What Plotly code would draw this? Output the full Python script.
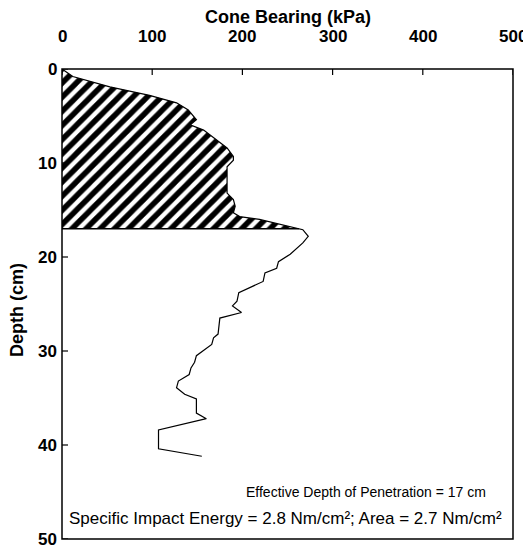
import numpy as np
import plotly.graph_objects as go

# Data
depth_cm = [0, 0.8, 1.9, 2.8, 3.6, 4.35, 5.4, 5.95, 6.5, 8.4, 9.3, 9.7, 10.4, 13.2, 13.9, 14.6,
            15.3, 15.7, 16.0, 16.7, 17.1, 17.8, 18.5, 19.7, 20.5, 21.2, 21.7, 22.6, 23.8, 24.7,
            25.2, 25.9, 26.5, 28.2, 28.6, 29.3, 30.5, 31.2, 31.8, 32.5, 33.2, 33.9, 34.6, 35.1,
            36.6, 37.2, 38.4, 40.4, 41.2]
bearing_kpa = [0, 12, 53, 97, 127, 140, 149, 142, 157, 183, 190, 190, 183, 183, 190, 192,
               190, 197, 219, 249, 267, 273, 267, 253, 240, 238, 225, 223, 196, 194,
               189, 199, 175, 173, 168, 166, 149, 147, 143, 141, 129, 127, 136, 149,
               149, 160, 107, 107, 155]
effective_depth = 17
x_ticks = [0, 100, 200, 300, 400, 500]
y_ticks = [0, 10, 20, 30, 40, 50]

d = np.array(depth_cm)
b = np.array(bearing_kpa)
mask = d <= effective_depth
b_eff = float(np.interp(effective_depth, d, b))
fill_x = list(b[mask]) + [b_eff, 0, 0]
fill_y = list(d[mask]) + [effective_depth, effective_depth, 0]

FONT = "Liberation Sans"
OFF = 8  # page body margin
W, H = 531 - OFF, 549 - OFF
ML, MR, MT, MB = 62 - OFF, 18, 69 - OFF, 10
PW, PH = W - ML - MR, H - MT - MB


def px_x(page_x):
    return (page_x - OFF - ML) / PW


def px_y(page_y):
    return 1 - (page_y - OFF - MT) / PH


fig = go.Figure()
fig.add_trace(go.Scatter(
    x=fill_x, y=fill_y, mode="lines", fill="toself",
    line=dict(width=0, color="rgba(0,0,0,0)"),
    fillcolor="white",
    fillpattern=dict(shape="/", fgcolor="#000000", fgopacity=1, bgcolor="#ffffff",
                     fillmode="overlay", size=10, solidity=0.55),
    opacity=1, hoverinfo="skip", showlegend=False))
fig.add_trace(go.Scatter(
    x=[0, b_eff], y=[effective_depth, effective_depth], mode="lines",
    line=dict(color="black", width=1.5), hoverinfo="skip", showlegend=False))
fig.add_trace(go.Scatter(
    x=bearing_kpa, y=depth_cm, mode="lines",
    line=dict(color="black", width=1.2), showlegend=False))

fig.update_layout(
    width=W, height=H,
    margin=dict(l=ML, r=MR, t=MT, b=MB, autoexpand=False),
    paper_bgcolor="white", plot_bgcolor="white",
    font=dict(family=FONT, color="black"),
    showlegend=False,
)
common = dict(ticks="", showline=False, showgrid=False, zeroline=False,
              showticklabels=False, automargin=False)
fig.update_xaxes(side="top", range=[0, 500], **common)
fig.update_yaxes(range=[50, 0], **common)

# frame
fig.add_shape(type="rect", xref="paper", yref="paper", x0=0, y0=0, x1=1, y1=1,
              line=dict(color="black", width=1.5), fillcolor="rgba(0,0,0,0)", layer="above")
# ticks (inside) and tick labels
tick_px = 6
for v in x_ticks:
    fig.add_shape(type="line", xref="x", yref="paper", x0=v, x1=v,
                  y0=1, y1=1 - tick_px / PH, line=dict(color="black", width=1.2))
    fig.add_annotation(text=f"<b>{v}</b>", xref="x", yref="paper", x=v,
                       y=px_y(37), xanchor="center", yanchor="middle",
                       showarrow=False, font=dict(family=FONT, size=17, color="black"))
for v in y_ticks:
    fig.add_shape(type="line", xref="paper", yref="y", x0=0, x1=tick_px / PW,
                  y0=v, y1=v, line=dict(color="black", width=1.2))
    fig.add_annotation(text=f"<b>{v}</b>", xref="paper", yref="y", x=px_x(59), y=v,
                       xanchor="right", yanchor="middle",
                       showarrow=False, font=dict(family=FONT, size=17, color="black"))

fig.add_annotation(text="<b>Cone Bearing (kPa)</b>", xref="paper", yref="paper",
                   x=0.5, y=px_y(17), xanchor="center", yanchor="middle",
                   showarrow=False, font=dict(family=FONT, size=18, color="black"))
fig.add_annotation(text="<b>Depth (cm)</b>", xref="paper", yref="paper",
                   x=px_x(17), y=px_y(310), xanchor="center", yanchor="middle",
                   textangle=-90, showarrow=False, font=dict(family=FONT, size=18, color="black"))
fig.add_annotation(text=f"Effective Depth of Penetration = {effective_depth} cm",
                   xref="paper", yref="paper", x=px_x(366), y=px_y(492),
                   xanchor="center", yanchor="middle", showarrow=False,
                   font=dict(family=FONT, size=14, color="black"))
fig.add_annotation(text="Specific Impact Energy = 2.8 Nm/cm²; Area = 2.7 Nm/cm²",
                   xref="paper", yref="paper", x=px_x(285), y=px_y(518),
                   xanchor="center", yanchor="middle", showarrow=False,
                   font=dict(family=FONT, size=17, color="black"))

fig.write_html("out.html")
